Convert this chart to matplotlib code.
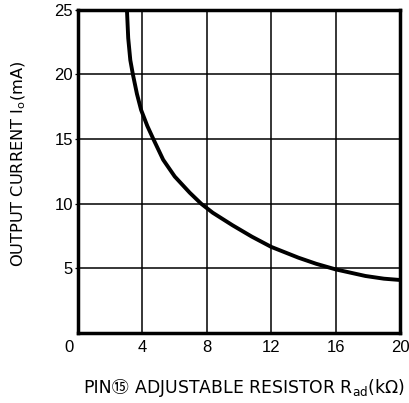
import matplotlib
matplotlib.use('Agg')
import matplotlib.pyplot as plt

# curve
r_ad = [3.04, 3.12, 3.25, 3.41, 3.66, 3.92, 4.31, 4.68, 5.29, 6.01, 6.94, 7.65, 8.37, 9.6, 10.8, 12.0, 13.7, 14.8, 16.0, 17.85, 19.0, 20.0]
i_out = [25.0, 22.8, 21.1, 20.0, 18.5, 17.25, 16.0, 15.0, 13.4, 12.1, 10.85, 10.0, 9.3, 8.33, 7.45, 6.66, 5.82, 5.35, 4.92, 4.41, 4.2, 4.1]
x_ticks = [4, 8, 12, 16, 20]
y_ticks = [5, 10, 15, 20, 25]

plt.rcParams['font.family'] = ['DejaVu Sans', 'Noto Sans CJK JP']
tick_font = ['Liberation Sans Narrow', 'Liberation Sans', 'DejaVu Sans']

fig = plt.figure(figsize=(4.10, 4.03), dpi=100)
ax = fig.add_axes([0.1902, 0.1737, 0.7854, 0.8022])

ax.plot(r_ad, i_out, color='black', lw=2.8, solid_capstyle='butt')
ax.set_xlim(0, 20)
ax.set_ylim(0, 25)
ax.set_xticks(x_ticks)
ax.set_yticks(y_ticks)
ax.tick_params(axis='x', length=0, pad=5)
ax.tick_params(axis='y', length=2.5, width=0.9, pad=1)
for lab in ax.get_xticklabels() + ax.get_yticklabels():
    lab.set_family(tick_font)
    lab.set_fontsize(12)
ax.grid(True, color='black', lw=1.1)
for s in ax.spines.values():
    s.set_linewidth(2.5)

# shared origin label
ax.annotate('0', xy=(0, 0), xytext=(-3, -5), textcoords='offset points',
            ha='right', va='top', fontsize=12, family=tick_font)

# y label
fig.text(19 / 410, 1 - 164 / 403, 'OUTPUT CURRENT I$_\\mathregular{o}$(mA)',
         rotation=90, ha='center', va='center', fontsize=11.7)

# x label: circled 15 needs the CJK fallback, so it sits outside the mathtext part
y0 = 1 - 393 / 403
t1 = fig.text(83 / 410, y0, 'PIN\u246e', va='baseline', ha='left', fontsize=12.4)
ax.annotate(' ADJUSTABLE RESISTOR R$_\\mathregular{ad}$(k\u03a9)', xy=(1, y0),
            xycoords=(t1, 'figure fraction'), va='baseline', ha='left', fontsize=12.4)

fig.savefig('out.png', dpi=100)
